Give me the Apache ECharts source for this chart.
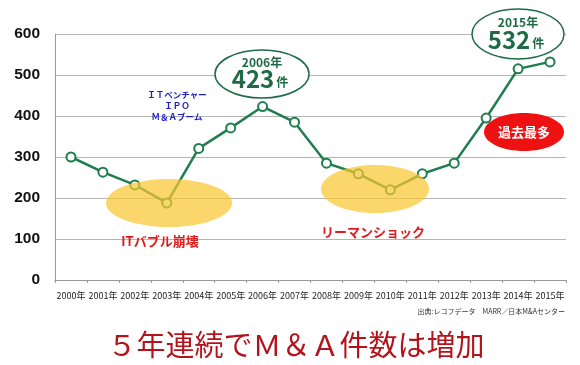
<!DOCTYPE html>
<html><head><meta charset="utf-8">
<script src="https://cdn.jsdelivr.net/npm/echarts@6/dist/echarts.min.js"></script>
<style>html,body{margin:0;padding:0;background:#fff}#c{width:580px;height:365px}</style>
</head><body><div id="c"></div>
<script>
const years = ['2000年','2001年','2002年','2003年','2004年','2005年','2006年','2007年','2008年','2009年','2010年','2011年','2012年','2013年','2014年','2015年'];
const deals = [300,263,232,188,321,371,423,385,285,259,220,259,285,395,515,532];
const yTicks = [0,100,200,300,400,500,600];

const F = '"Noto Sans CJK JP", sans-serif';
const G = '#1e6b45';
const chart = echarts.init(document.getElementById('c'), null, {renderer:'canvas'});
const big = {fontSize:24,fontWeight:'bold',fontFamily:F,fill:G};
const unit = {fontSize:12,fontWeight:'bold',fontFamily:F,fill:G,padding:[6,0,0,2]};
chart.setOption({
  animation:false,
  grid:{left:55,right:14,top:34,bottom:85},
  xAxis:{type:'category',data:years,boundaryGap:true,
    axisLine:{lineStyle:{color:'#999',width:1}},
    axisTick:{show:true,length:3,lineStyle:{color:'#999'}},
    axisLabel:{interval:0,fontSize:9,color:'#222',fontFamily:F,margin:11}},
  yAxis:{type:'value',min:yTicks[0],max:yTicks[yTicks.length-1],interval:100,
    axisLine:{show:true,lineStyle:{color:'#999'}},
    axisTick:{show:false},
    splitLine:{lineStyle:{color:'#b5b5b5',width:1.2}},
    axisLabel:{fontSize:15.5,fontWeight:'bold',color:'#111',fontFamily:'"Liberation Sans", Arial, sans-serif',margin:15}},
  series:[{type:'line',data:deals,symbol:'circle',symbolSize:9,
    lineStyle:{color:'#1f7d4e',width:2.5},
    itemStyle:{color:'#fff',borderColor:'#1f7d4e',borderWidth:2}}],
  graphic:[
    {type:'ellipse',shape:{cx:169,cy:203,rx:63,ry:24},style:{fill:'rgba(250,198,50,0.72)'},z:100},
    {type:'ellipse',shape:{cx:375,cy:189,rx:54,ry:24},style:{fill:'rgba(250,198,50,0.72)'},z:100},
    {type:'text',x:160,y:241,z:101,style:{text:'ITバブル崩壊',fill:'#e01b1b',font:'bold 13px '+F,align:'center',verticalAlign:'middle'}},
    {type:'text',x:373,y:232,z:101,style:{text:'リーマンショック',fill:'#e01b1b',font:'bold 13px '+F,align:'center',verticalAlign:'middle'}},
    {type:'text',x:177,y:106,z:101,style:{text:'ＩＴベンチャー\nＩＰＯ\nＭ＆Ａブーム',fill:'#1c1cc8',font:'bold 8.5px '+F,align:'center',verticalAlign:'middle',lineHeight:11}},
    {type:'ellipse',shape:{cx:262,cy:74,rx:47,ry:24},style:{fill:'#fff',stroke:G,lineWidth:1.5},z:100},
    {type:'text',x:262,y:62,z:101,style:{text:'2006年',fill:G,font:'bold 12px '+F,align:'center',verticalAlign:'middle'}},
    {type:'text',x:260,y:79,z:101,style:{text:'{b|423}{c|件}',align:'center',verticalAlign:'middle',rich:{b:big,c:unit}}},
    {type:'ellipse',shape:{cx:518,cy:34,rx:46,ry:25},style:{fill:'#fff',stroke:G,lineWidth:1.5},z:100},
    {type:'text',x:518,y:22,z:101,style:{text:'2015年',fill:G,font:'bold 12px '+F,align:'center',verticalAlign:'middle'}},
    {type:'text',x:516,y:40,z:101,style:{text:'{b|532}{c|件}',align:'center',verticalAlign:'middle',rich:{b:big,c:unit}}},
    {type:'ellipse',shape:{cx:524,cy:132,rx:40,ry:19},style:{fill:'#ee1111'},z:100},
    {type:'text',x:524,y:132,z:101,style:{text:'過去最多',fill:'#fff',font:'bold 13px '+F,align:'center',verticalAlign:'middle'}},
    {type:'text',x:565,y:311,z:101,style:{text:'出典:レコフデータ　MARR／日本M&Aセンター',fill:'#333',font:'7px '+F,align:'right',verticalAlign:'middle'}},
    {type:'text',x:296,y:345,z:101,style:{text:'５年連続でＭ＆Ａ件数は増加',fill:'#b3141b',font:'29px '+F,align:'center',verticalAlign:'middle'}}
  ]
});
</script></body></html>
